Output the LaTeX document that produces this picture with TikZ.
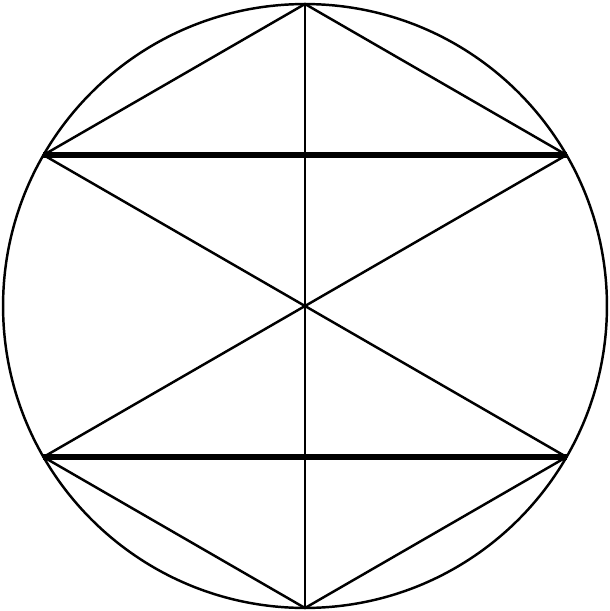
\documentclass[tikz,border=0pt]{standalone}
\usetikzlibrary{calc}

\tikzset{
  thin line/.style={line width=1.4pt, line cap=round},
  thick line/.style={line width=3pt},
}

\begin{document}
\begin{tikzpicture}[x=0.02cm, y=-0.02cm]
  \useasboundingbox (0,0) rectangle (609,611);

  % circle with hexagon corners on it (y axis points down)
  \coordinate (o) at (305,306);
  \draw [thin line] (o) circle [radius=6.04cm];
  \foreach \name/\ang in {top/90, ur/30, ul/150, ll/210, lr/330, bot/270}
    \coordinate (\name) at ($(o)+(-\ang:302)$);

  % hexagon edges at top and bottom, vertical diameter
  \draw [thin line] (ul) -- (top) -- (ur);
  \draw [thin line] (ll) -- (bot) -- (lr);
  \draw [thin line] (top) -- (bot);

  % crossing diagonals through the centre
  \draw [thin line] (ul) -- (lr);
  \draw [thin line] (ur) -- (ll);

  % thick chords
  \draw [thick line] (ul) -- (ur);
  \draw [thick line] (ll) -- (lr);
\end{tikzpicture}
\end{document}
